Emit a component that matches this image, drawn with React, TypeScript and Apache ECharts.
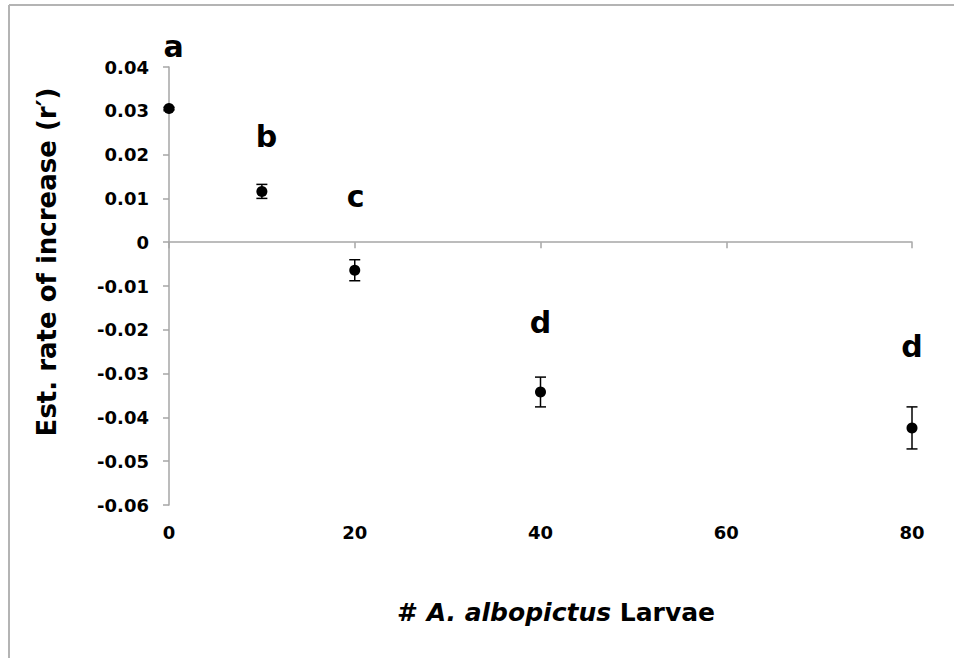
import React, { useEffect, useRef } from 'react';
import * as echarts from 'echarts';

// Data
const larvae = [0, 10, 20, 40, 80];
const rateMean = [0.0305, 0.0116, -0.0064, -0.0342, -0.0424];
const rateErr = [0.0003, 0.0016, 0.0024, 0.0034, 0.0048];
const groupLetters = ['a', 'b', 'c', 'd', 'd'];
const letterX = [0.5, 10.5, 20.1, 40, 80];
const letterY = [0.0446, 0.0241, 0.0104, -0.0184, -0.0237];
const xTickLabels = ['0', '20', '40', '60', '80'];
const yTickLabels = ['-0.06', '-0.05', '-0.04', '-0.03', '-0.02', '-0.01', '0', '0.01', '0.02', '0.03', '0.04'];

const FONT = '"DejaVu Sans", Verdana, sans-serif';
const AXIS_GRAY = '#a6a6a6';

export default function App() {
  const ref = useRef<HTMLDivElement>(null);

  useEffect(() => {
    if (!ref.current) return;
    const chart = echarts.init(ref.current, undefined, { renderer: 'svg' });

    const points = larvae.map((x, i) => [x, rateMean[i]]);
    const bars = larvae.map((x, i) => [x, rateMean[i] - rateErr[i], rateMean[i] + rateErr[i]]);
    const letters = letterX.map((x, i) => [x, letterY[i], groupLetters[i]]);

    const option: any = {
      animation: false,
      backgroundColor: '#ffffff',
      grid: { left: 169, right: 42, top: 67, bottom: 153, containLabel: false },
      xAxis: [
        {
          type: 'value',
          min: 0,
          max: 80,
          interval: 20,
          position: 'bottom',
          axisLine: { show: false, onZero: false },
          axisTick: { show: false },
          splitLine: { show: false },
          axisLabel: {
            show: true,
            margin: 18,
            fontFamily: FONT,
            fontWeight: 'bold',
            fontSize: 18,
            color: '#000',
            formatter: (v: number) => xTickLabels[Math.round(v / 20)] ?? '',
          },
        },
        {
          type: 'value',
          min: 0,
          max: 80,
          interval: 20,
          position: 'bottom',
          axisLine: { show: true, onZero: true, lineStyle: { color: AXIS_GRAY, width: 1.5 } },
          axisTick: { show: true, inside: false, length: 6, lineStyle: { color: AXIS_GRAY, width: 1.5 } },
          axisLabel: { show: false },
          splitLine: { show: false },
        },
      ],
      yAxis: {
        type: 'value',
        min: -0.06,
        max: 0.04,
        interval: 0.01,
        axisLine: { show: true, onZero: false, lineStyle: { color: AXIS_GRAY, width: 1.5 } },
        axisTick: { show: true, inside: false, length: 6, lineStyle: { color: AXIS_GRAY, width: 1.5 } },
        splitLine: { show: false },
        axisLabel: {
          margin: 20,
          fontFamily: FONT,
          fontWeight: 'bold',
          fontSize: 18,
          color: '#000',
          formatter: (v: number) => yTickLabels[Math.round(v * 100) + 6] ?? '',
        },
      },
      graphic: [
        { type: 'line', shape: { x1: 9, y1: 5, x2: 954, y2: 5 }, style: { stroke: '#b4b4b4', lineWidth: 2 } },
        { type: 'line', shape: { x1: 9, y1: 5, x2: 9, y2: 658 }, style: { stroke: '#b4b4b4', lineWidth: 2 } },
        {
          type: 'text',
          x: 47,
          y: 262,
          rotation: Math.PI / 2,
          style: {
            text: 'Est. rate of increase (r\u2032)',
            font: `bold 26px ${FONT}`,
            textAlign: 'center',
            textVerticalAlign: 'middle',
            fill: '#000',
          },
        },
        {
          type: 'text',
          x: 556,
          y: 612,
          style: {
            text: '{n|# }{i|A. albopictus}{n| Larvae}',
            textAlign: 'center',
            textVerticalAlign: 'middle',
            rich: {
              n: { fontFamily: FONT, fontWeight: 'bold', fontSize: 25, fill: '#000' },
              i: { fontFamily: FONT, fontWeight: 'bold', fontStyle: 'italic', fontSize: 25, fill: '#000' },
            },
          },
        },
      ],
      series: [
        {
          type: 'custom',
          xAxisIndex: 0,
          clip: false,
          encode: { x: 0, y: [1, 2] },
          data: bars,
          z: 2,
          renderItem: (params: any, api: any) => {
            const x = api.value(0);
            const top = api.coord([x, api.value(2)]);
            const bot = api.coord([x, api.value(1)]);
            const w = 5.5;
            const st = { stroke: '#000', lineWidth: 1.5 };
            return {
              type: 'group',
              children: [
                { type: 'line', shape: { x1: top[0], y1: top[1], x2: bot[0], y2: bot[1] }, style: st },
                { type: 'line', shape: { x1: top[0] - w, y1: top[1], x2: top[0] + w, y2: top[1] }, style: st },
                { type: 'line', shape: { x1: bot[0] - w, y1: bot[1], x2: bot[0] + w, y2: bot[1] }, style: st },
              ],
            };
          },
        },
        {
          type: 'scatter',
          xAxisIndex: 0,
          data: points,
          symbol: 'circle',
          symbolSize: 11,
          clip: false,
          itemStyle: { color: '#000', opacity: 1 },
          z: 3,
        },
        {
          type: 'scatter',
          xAxisIndex: 0,
          data: letters,
          symbolSize: 0,
          clip: false,
          z: 4,
          itemStyle: { opacity: 1 },
          label: {
            show: true,
            position: 'inside',
            formatter: (p: any) => p.value[2],
            fontFamily: FONT,
            fontWeight: 'bold',
            fontSize: 30,
            color: '#000',
          },
        },
      ],
    };

    chart.setOption(option);
    return () => chart.dispose();
  }, []);

  return (
    <div
      ref={ref}
      style={{ position: 'fixed', left: 0, top: 0, width: 954, height: 658, background: '#fff' }}
    />
  );
}
